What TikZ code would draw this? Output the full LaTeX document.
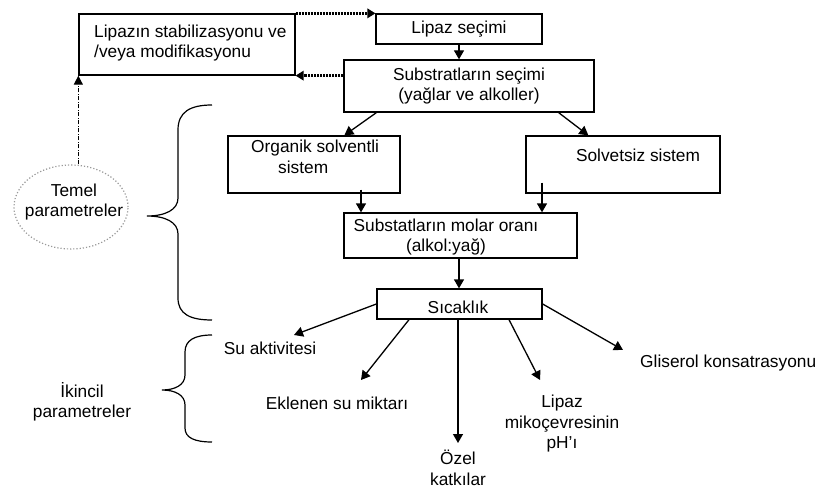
\documentclass[tikz,border=0pt]{standalone}
\usepackage{fontspec}
\setmainfont{Liberation Sans}
\usetikzlibrary{arrows.meta,shapes.geometric,calc}

\tikzset{
  box/.style={draw, line width=1.3pt, rectangle, inner sep=0pt, align=center},
  txt/.style={inner sep=0pt, align=center},
  arr/.style={line width=1.3pt, -{Triangle[length=9pt,width=10pt]}},
  dotarr/.style={line width=3pt, dash pattern=on 2pt off 1pt,
    -{Triangle[length=8pt,width=10pt,line width=0pt]}},
  dasharr/.style={line width=1pt, dash pattern=on 4pt off 1.5pt on 1pt off 1.5pt,
    -{Triangle[length=9pt,width=9pt]}},
  brace/.style={line width=1.2pt},
}

\begin{document}
\begin{tikzpicture}[x=1pt, y=-1pt,
  every node/.style={font=\fontsize{17.3}{20.5}\selectfont}]
\useasboundingbox (0,0) rectangle (821,489);

% --- upper chain of boxes ---
\node[box, minimum width=216pt, minimum height=61pt] (stab) at (187,44.5) {};
\node[txt, anchor=west, align=left] (stabtxt) at (94,43)
  {Lipazın stabilizasyonu ve\\/veya modifikasyonu};

\node[box, minimum width=166pt, minimum height=30pt] (lip) at (459,29) {Lipaz seçimi};
\node[box, minimum width=250pt, minimum height=52pt] (subsel) at (469,86)
  {Substratların seçimi\\(yağlar ve alkoller)};

\node[box, minimum width=172pt, minimum height=57pt] (org) at (314,164.5) {};
\node[txt, anchor=north west, align=left] (orgtxt) at (251,140)
  {Organik solventli\\\hspace*{27pt}sistem};

\node[box, minimum width=194pt, minimum height=57pt] (solv) at (623,164.5) {};
\node[txt] (solvtxt) at (638,155) {Solvetsiz sistem};

\node[box, minimum width=233pt, minimum height=45pt] (molar) at (460.5,235.5) {};
\node[txt] (molartxt) at (446,237) {Substatların molar oranı\\(alkol:yağ)};

\node[box, minimum width=165pt, minimum height=30pt] (sic) at (459.5,304) {};
\node[txt] (sictxt) at (458,307) {Sıcaklık};

% --- feedback loop (dotted) and base parameters ---
\draw[dotarr] (stab.north east) -- (lip.north west);
\draw[dotarr] (subsel.west |- stab.south east) -- (stab.south east);

\node[ellipse, draw=gray!80, line width=1.2pt, dotted, minimum width=114pt,
  minimum height=84pt, inner sep=0pt] (temel) at (71,207) {};
\node[txt] (temeltxt) at (74,202) {Temel\\parametreler};
\draw[dasharr] (stab.south west |- temel.north) -- (stab.south west);

% --- main flow ---
\draw[arr] (lip.south) -- (lip.south |- subsel.north);
\draw[arr] ([xshift=33pt]subsel.south west) -- ([xshift=117pt]org.north west);
\draw[arr] ([xshift=-36pt]subsel.south east) -- ([xshift=63pt]solv.north west);

\coordinate (o1) at ([xshift=47pt,yshift=4pt]org.south);
\draw[arr] (o1) -- (o1 |- molar.north);
\coordinate (s1) at ([xshift=-81pt,yshift=11pt]solv.south);
\draw[arr] (s1) -- (s1 |- molar.north);
\draw[arr] ([xshift=-1.5pt]molar.south) -- ([xshift=-1.5pt]molar.south |- sic.north);

% --- secondary parameters ---
\node[txt] (su) at (270,348) {Su aktivitesi};
\node[txt] (ekl) at (337,403) {Eklenen su miktarı};
\node[txt] (ozel) at (458,468) {Özel\\katkılar};
\node[txt] (ph) at (562,424) {Lipaz\\mikoçevresinin\\pH'ı};
\node[txt, anchor=west] (glis) at (640,363) {Gliserol konsatrasyonu};

\coordinate (suEnd) at (294,335);
\coordinate (eklEnd) at (361,380);
\coordinate (ozelEnd) at (458,443);
\coordinate (phEnd) at (540,380);
\coordinate (glisEnd) at (623,350);

\draw[arr] (sic.west) -- (suEnd);
\draw[arr] ([xshift=-50.5pt]sic.south) -- (eklEnd);
\draw[arr] ([xshift=-1.5pt]sic.south) -- (ozelEnd);
\draw[arr] ([xshift=49.5pt]sic.south) -- (phEnd);
\draw[arr] (sic.east) -- (glisEnd);

\node[txt] (ikin) at (82,402) {İkincil\\parametreler};

% --- braces grouping the parameters ---
\draw[brace] (212,105) .. controls (190,105) and (178,112) .. (178,130)
  -- (178,198) .. controls (178,210) and (165,216) .. (147,216)
  .. controls (165,216) and (178,222) .. (178,234)
  -- (178,298) .. controls (178,314) and (190,320) .. (212,320);
\draw[brace] (212,335) .. controls (195,335) and (185,340) .. (185,352)
  -- (185,375) .. controls (185,385) and (175,390) .. (162,390)
  .. controls (175,390) and (185,395) .. (185,405)
  -- (185,428) .. controls (185,438) and (195,442) .. (212,442);
\end{tikzpicture}
\end{document}
